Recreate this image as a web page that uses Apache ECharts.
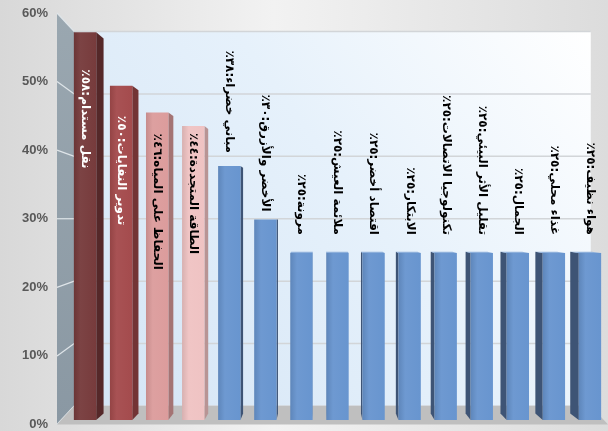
<!DOCTYPE html>
<html><head><meta charset="utf-8">
<script src="https://cdn.jsdelivr.net/npm/echarts@6/dist/echarts.min.js"></script>
<style>html,body{margin:0;padding:0;background:#e6e6e6}#c{width:608px;height:431px}</style>
</head><body><div id="c" dir="rtl"></div>
<script>
// ---- data ----
const categories = ['نقل مستدام','تدوير النفايات','الحفاظ على المياه','الطاقة المتجددة','مباني خضراء','الأخضر والأزرق','مرونة','ملائمة العيش','اقتصاد أخضر','الابتكار','تكنولوجيا الاتصالات','تقليل الأثر البيئي','الجمال','غذاء محلي','هواء نظيف'];
const values = [58,50,46,44,38,30,25,25,25,25,25,25,25,25,25];
const yTicks = [0,10,20,30,40,50,60];

// ---- styling (not data) ----
const frontColors = ['#773b3c','#a44b4d','#dc9c9c','#efc3c3','#6895cf','#6895cf','#6895cf','#6895cf','#6895cf','#6895cf','#6895cf','#6895cf','#6895cf','#6895cf','#6895cf'];
const sideColors  = ['#552829','#733435','#a47474','#b89494','#3e5475','#3e5475','#3e5475','#3e5475','#3e5475','#3e5475','#3e5475','#3e5475','#3e5475','#3e5475','#3e5475'];
const labelColors = ['#ffffff','#ffffff','#000','#000','#000','#000','#000','#000','#000','#000','#000','#000','#000','#000','#000'];
const labelInside = [true,true,true,true,false,false,false,false,false,false,false,false,false,false,false];
const labelGap    = [37,30,21,7,13,8,18,18,18,18,18,18,18,18,18];

const toAr = n => String(n).replace(/\d/g, d => '٠١٢٣٤٥٦٧٨٩'[+d]);
const labels = categories.map((c, i) => c + ':' + toAr(values[i]) + '٪');

function shade(c, f) {
  const n = parseInt(c.slice(1), 16);
  let r = (n >> 16) & 255, g = (n >> 8) & 255, b = n & 255;
  const m = v => Math.max(0, Math.min(255, Math.round(f > 0 ? v + (255 - v) * f : v * (1 + f))));
  return 'rgb(' + m(r) + ',' + m(g) + ',' + m(b) + ')';
}

const chart = echarts.init(document.getElementById('c'), null, {renderer: 'canvas'});

function renderRoom(params, api) {
  const cs = params.coordSys;
  const xl = cs.x, xr = cs.x + cs.width;
  const yTop = api.coord([0, 60])[1], yBot = api.coord([0, 0])[1];
  const vx = cs.x + cs.width * 0.5, vy = api.coord([0, 30])[1];
  const kx = 0.9375, ky = 0.91;
  const bx = x => vx + (x - vx) * kx, by = y => vy + (y - vy) * ky;
  const ch = [];
  ch.push({type: 'rect', shape: {x: bx(xl), y: by(yTop), width: bx(xr) - bx(xl), height: by(yBot) - by(yTop)},
    style: {fill: {type: 'linear', x: 0, y: 1, x2: 1, y2: 0, colorStops: [{offset: 0, color: '#d3e4f5'}, {offset: 0.55, color: '#e6f1fb'}, {offset: 1, color: '#ffffff'}]}}});
  yTicks.forEach(t => {
    const y = api.coord([0, t])[1];
    ch.push({type: 'line', shape: {x1: bx(xl), y1: by(y), x2: bx(xr), y2: by(y)}, style: {stroke: '#d2d5d8', lineWidth: 1.5}});
  });
  ch.push({type: 'polygon', shape: {points: [[xl, yTop], [bx(xl), by(yTop)], [bx(xl), by(yBot)], [xl, yBot]]},
    style: {fill: {type: 'linear', x: 0, y: 0, x2: 0, y2: 1, colorStops: [{offset: 0, color: '#9aa7b0'}, {offset: 1, color: '#8a98a3'}]}}});
  yTicks.forEach(t => {
    const y = api.coord([0, t])[1];
    ch.push({type: 'line', shape: {x1: xl, y1: y, x2: bx(xl), y2: by(y)}, style: {stroke: '#dfe5e9', lineWidth: 1.2}});
  });
  ch.push({type: 'polygon', shape: {points: [[xl, yBot], [bx(xl), by(yBot)], [bx(xr), by(yBot)], [xr, yBot]]},
    style: {fill: '#bfbfbf'}});
  return {type: 'group', children: ch};
}

function renderBar(params, api) {
  const i = api.value(0), v = api.value(1);
  const top = api.coord([i, v]), base = api.coord([i, 0]);
  const band = api.size([1, 0])[0];
  const w = band * 0.62;
  const x0 = top[0] - w / 2, x1 = top[0] + w / 2;
  const yt = top[1], yb = base[1];
  const cs = params.coordSys;
  const vx = cs.x + cs.width * 7 / 15, vy = api.coord([0, 30])[1];
  const k = 0.967;
  const px = x => vx + (x - vx) * k, py = y => vy + (y - vy) * k;
  const ch = [];
  if (x1 < vx) {
    ch.push({type: 'polygon', shape: {points: [[x1, yt], [px(x1), py(yt)], [px(x1), py(yb)], [x1, yb]]}, style: {fill: sideColors[i]}});
  } else if (x0 > vx) {
    ch.push({type: 'polygon', shape: {points: [[x0, yt], [px(x0), py(yt)], [px(x0), py(yb)], [x0, yb]]}, style: {fill: sideColors[i]}});
  }
  if (yt > vy) {
    ch.push({type: 'polygon', shape: {points: [[x0, yt], [x1, yt], [px(x1), py(yt)], [px(x0), py(yt)]]}, style: {fill: shade(frontColors[i], 0.25)}});
  }
  const fc = frontColors[i];
  ch.push({type: 'rect', shape: {x: x0, y: yt, width: w, height: yb - yt},
    style: {fill: {type: 'linear', x: 0, y: 0, x2: 1, y2: 0, colorStops: [
      {offset: 0, color: shade(fc, -0.1)}, {offset: 0.3, color: shade(fc, 0.04)}, {offset: 1, color: fc}]}}});
  const inside = labelInside[i];
  ch.push({type: 'text', x: top[0], y: inside ? yt + labelGap[i] : yt - labelGap[i], rotation: -Math.PI / 2,
    style: {text: labels[i], fill: labelColors[i], font: 'bold 12px "DejaVu Sans"', align: inside ? 'left' : 'right', verticalAlign: 'middle'}});
  return {type: 'group', children: ch};
}

const option = {
  animation: false,
  backgroundColor: {type: 'linear', x: 0, y: 0, x2: 1, y2: 0, colorStops: [{offset: 0, color: '#d8d8d8'}, {offset: 0.45, color: '#f2f2f2'}, {offset: 1, color: '#dcdcdc'}]},
  grid: [
    {left: 57, right: 0, top: 13, bottom: 5},
    {left: 67, right: -3, top: 19, bottom: 11}
  ],
  xAxis: [
    {gridIndex: 0, type: 'value', min: 0, max: 1, show: false},
    {gridIndex: 1, type: 'category', data: categories, show: false}
  ],
  yAxis: [
    {gridIndex: 0, type: 'value', min: 0, max: 60, interval: 10,
      axisLabel: {formatter: '{value}%', color: '#595959', fontWeight: 'bold', fontSize: 13, fontFamily: 'Liberation Sans', margin: 9},
      axisLine: {show: false}, axisTick: {show: false}, splitLine: {show: false}},
    {gridIndex: 1, type: 'value', min: 0, max: 60, show: false}
  ],
  series: [
    {type: 'custom', xAxisIndex: 0, yAxisIndex: 0, data: [[0, 0]], renderItem: renderRoom, z: 1, silent: true},
    {type: 'custom', xAxisIndex: 1, yAxisIndex: 1, data: values.map((v, i) => [i, v]), renderItem: renderBar, z: 2, clip: false}
  ]
};
chart.setOption(option);
</script></body></html>
